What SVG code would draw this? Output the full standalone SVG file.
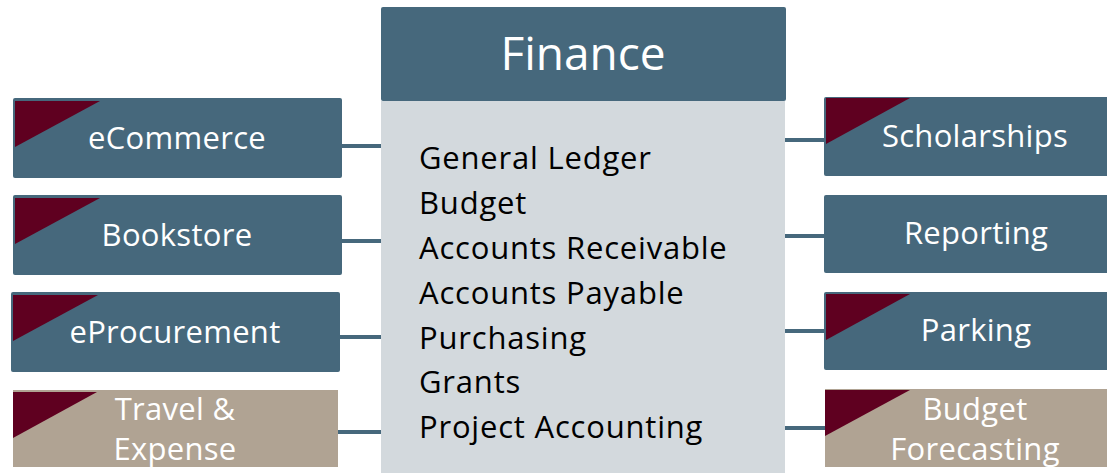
<svg xmlns="http://www.w3.org/2000/svg" width="1107" height="473" viewBox="0 0 1107 473">
<style>
.b{fill:#46687c}
.t{fill:#b0a393}
.tri{fill:#5f0020}
.lbl{font-family:"Open Sans","Liberation Sans",sans-serif;font-size:31px;fill:#ffffff;text-anchor:middle;letter-spacing:0.3px}
.lst{font-family:"Open Sans","Liberation Sans",sans-serif;font-size:31px;fill:#000000;letter-spacing:0.8px}
.c{stroke:#46687c;stroke-width:4;fill:none}
</style>
<rect width="1107" height="473" fill="#ffffff"/>
<g id="connectors">
<line class="c" x1="342" y1="146" x2="384" y2="146"/>
<line class="c" x1="342" y1="241" x2="384" y2="241"/>
<line class="c" x1="340" y1="337" x2="384" y2="337"/>
<line class="c" x1="338" y1="432" x2="384" y2="432"/>
<line class="c" x1="781" y1="140" x2="825" y2="140"/>
<line class="c" x1="784" y1="236" x2="825" y2="236"/>
<line class="c" x1="784" y1="331" x2="825" y2="331"/>
<line class="c" x1="782" y1="428" x2="826" y2="428"/>
</g>
<g id="finance">
<rect x="381" y="101" width="404" height="372" fill="#d3d9dd"/>
<rect class="b" x="381" y="7" width="405" height="94" rx="2"/>
<text x="583" y="70" font-family="'Open Sans','Liberation Sans',sans-serif" font-size="46" fill="#ffffff" text-anchor="middle">Finance</text>
<text class="lst" x="419" y="169">General Ledger</text>
<text class="lst" x="419" y="214">Budget</text>
<text class="lst" x="419" y="259">Accounts Receivable</text>
<text class="lst" x="419" y="304">Accounts Payable</text>
<text class="lst" x="419" y="349">Purchasing</text>
<text class="lst" x="419" y="393">Grants</text>
<text class="lst" x="419" y="438">Project Accounting</text>
</g>
<g id="ecommerce">
<rect class="b" x="13" y="98" width="329" height="80" rx="2"/>
<polygon class="tri" points="15,101 100,101 15,147"/>
<text class="lbl" x="177" y="149">eCommerce</text>
</g>
<g id="bookstore">
<rect class="b" x="13" y="195" width="329" height="80" rx="2"/>
<polygon class="tri" points="15,198 100,198 15,244"/>
<text class="lbl" x="177" y="246">Bookstore</text>
</g>
<g id="eprocurement">
<rect class="b" x="11" y="292" width="329" height="80" rx="2"/>
<polygon class="tri" points="13,295 98,295 13,341"/>
<text class="lbl" x="175" y="343">eProcurement</text>
</g>
<g id="travel">
<rect class="t" x="13" y="390" width="325" height="77"/>
<polygon class="tri" points="13,392 97,392 13,438"/>
<text class="lbl" x="175" y="420">Travel &amp;</text>
<text class="lbl" x="175" y="460">Expense</text>
</g>
<g id="scholarships">
<rect class="b" x="824" y="97" width="290" height="79" rx="2"/>
<polygon class="tri" points="826,98 910,98 826,144"/>
<text class="lbl" x="975" y="147">Scholarships</text>
</g>
<g id="reporting">
<rect class="b" x="824" y="195" width="290" height="78" rx="2"/>
<text class="lbl" x="976" y="244">Reporting</text>
</g>
<g id="parking">
<rect class="b" x="824" y="292" width="290" height="78" rx="2"/>
<polygon class="tri" points="826,294 910,294 826,340"/>
<text class="lbl" x="976" y="341">Parking</text>
</g>
<g id="budgetforecasting">
<rect class="t" x="825" y="389" width="290" height="78"/>
<polygon class="tri" points="825,390 910,390 825,436"/>
<text class="lbl" x="975" y="420">Budget</text>
<text class="lbl" x="975" y="460">Forecasting</text>
</g>
</svg>
